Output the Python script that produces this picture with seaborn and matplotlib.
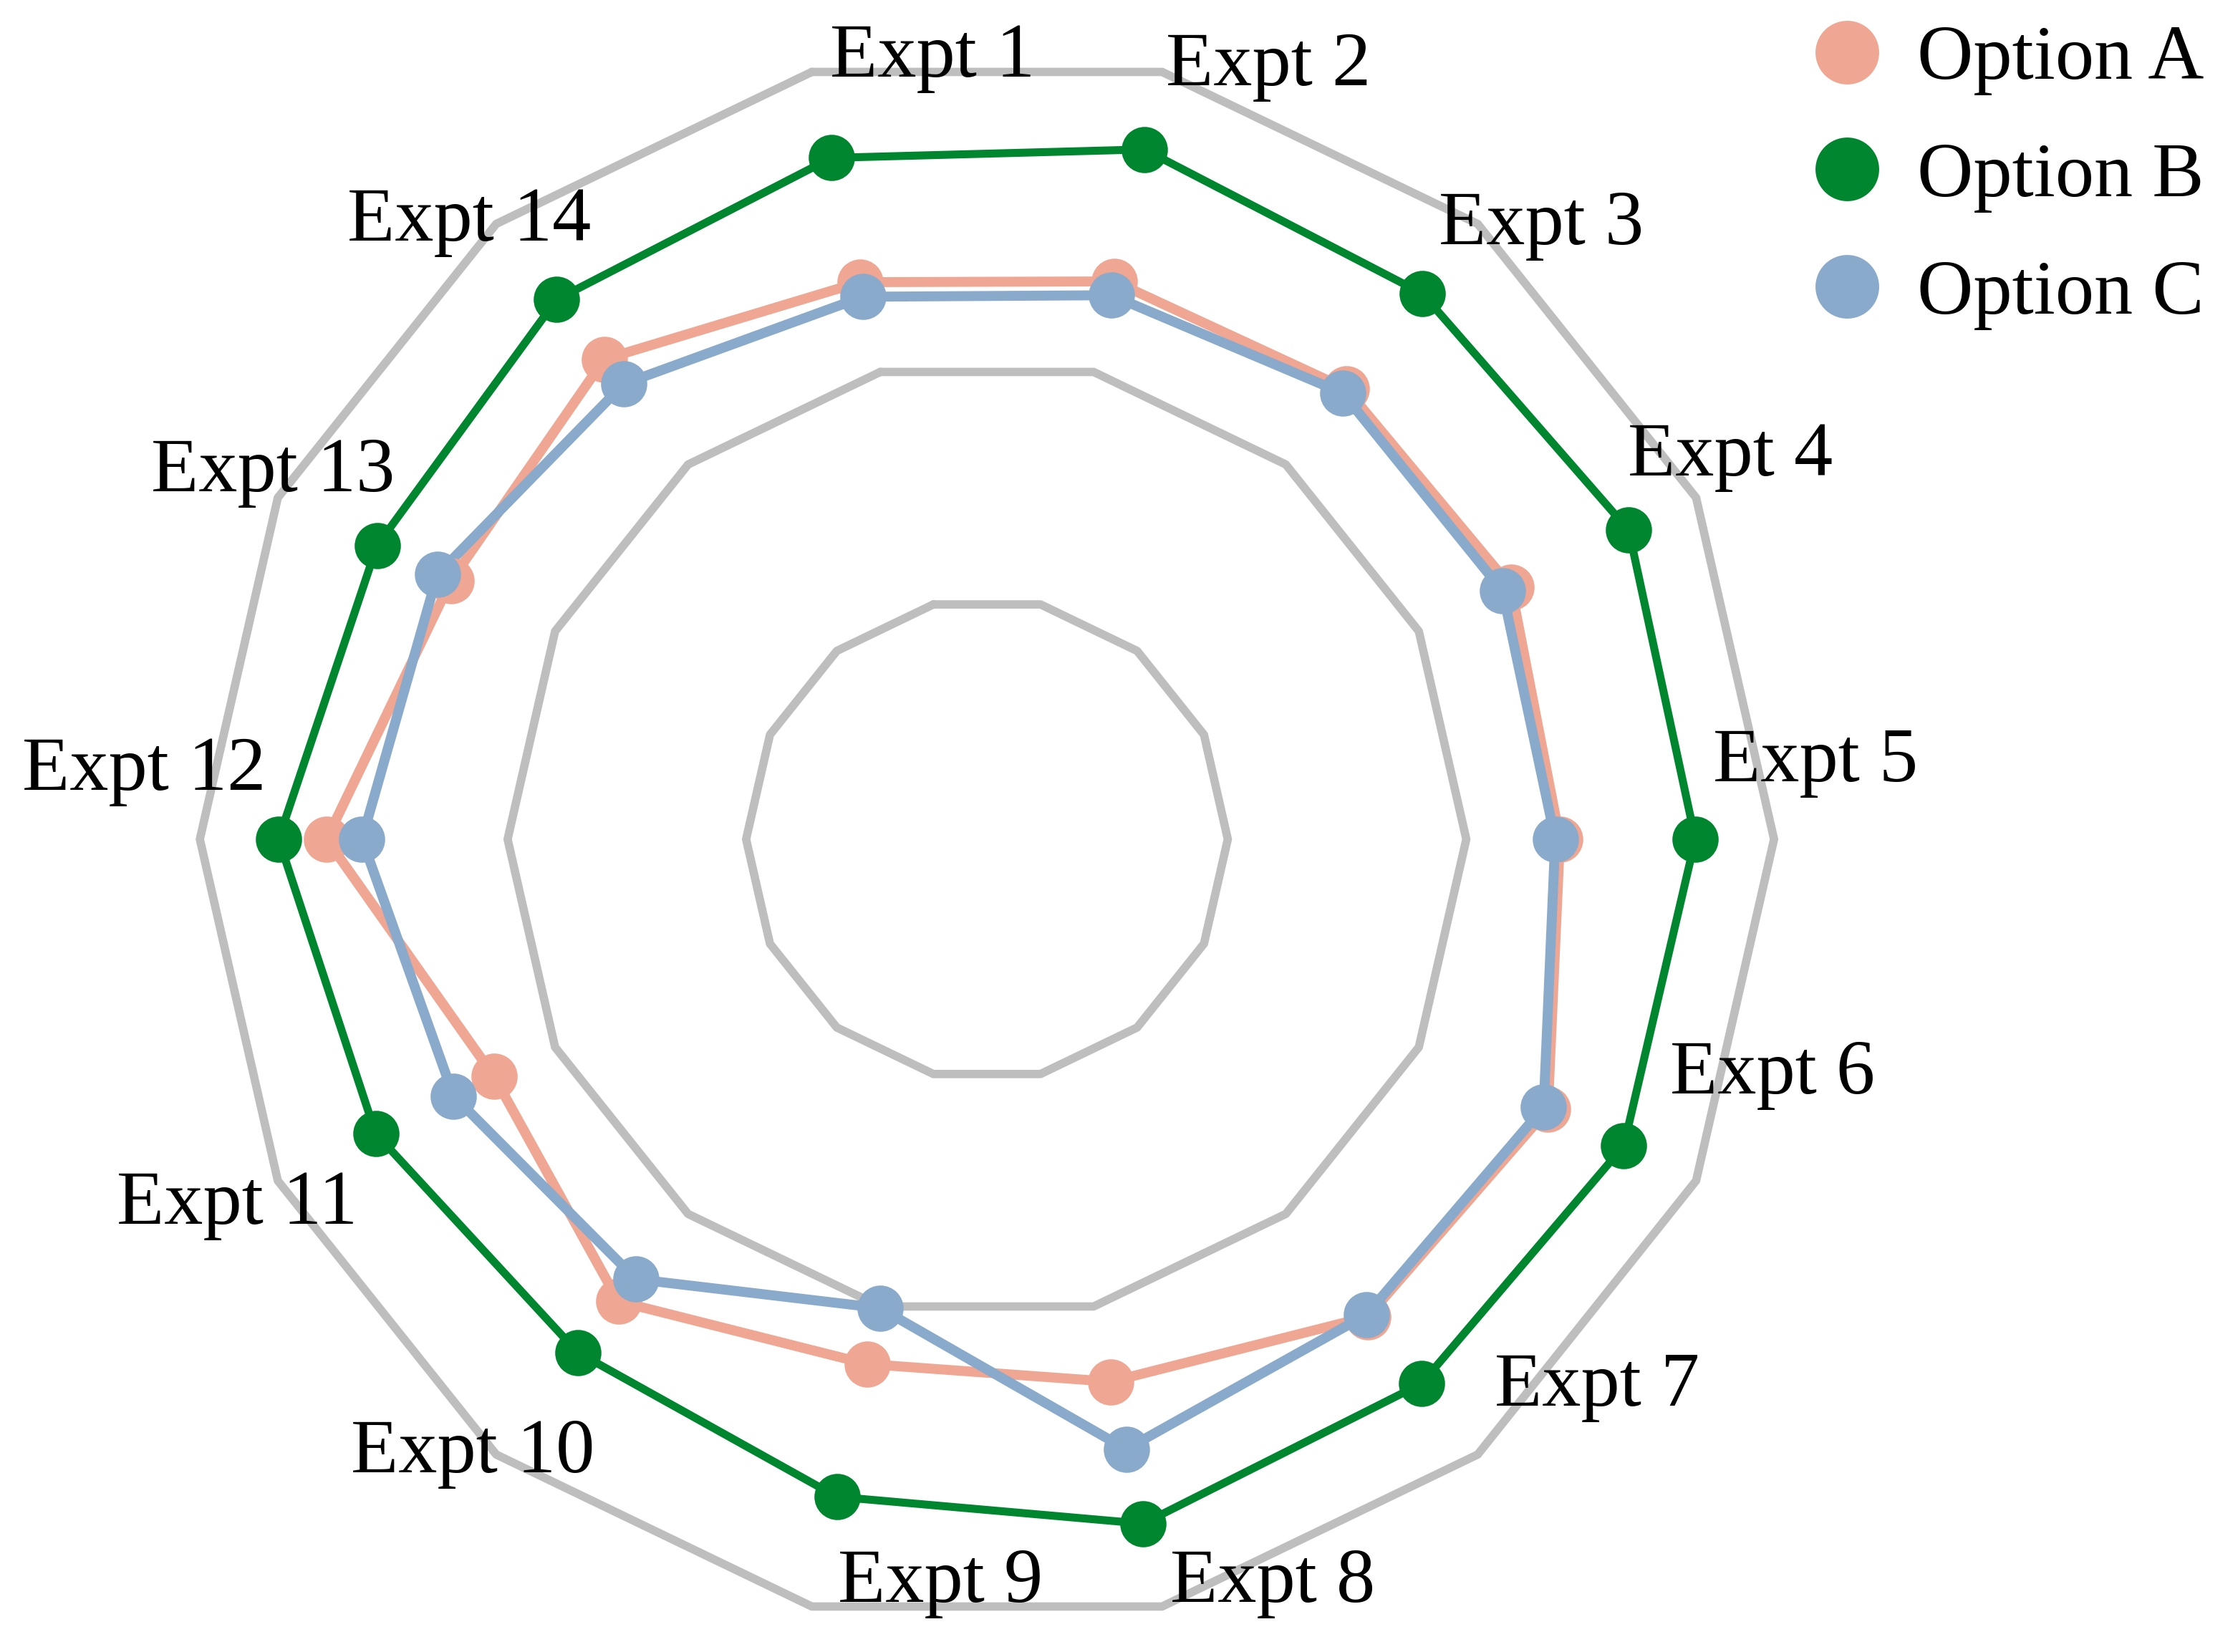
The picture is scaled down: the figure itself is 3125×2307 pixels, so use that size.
import numpy as np
import pandas as pd
import matplotlib.pyplot as plt
from matplotlib.lines import Line2D
import seaborn as sns

# data (outer grey ring = 100)
experiments = ['Expt 1', 'Expt 2', 'Expt 3', 'Expt 4', 'Expt 5', 'Expt 6', 'Expt 7',
               'Expt 8', 'Expt 9', 'Expt 10', 'Expt 11', 'Expt 12', 'Expt 13', 'Expt 14']
option_a = [72.6, 72.7, 73.2, 73.9, 72.8, 79.1, 77.6, 70.7, 68.4, 75.1, 69.5, 83.9, 75.6, 78.0]
option_b = [88.8, 89.9, 88.7, 90.5, 90.0, 89.8, 88.5, 89.2, 85.7, 83.4, 86.2, 90.0, 86.0, 87.7]
option_c = [70.7, 70.9, 72.5, 72.7, 72.2, 78.5, 77.3, 79.5, 61.1, 71.5, 75.2, 79.4, 77.5, 74.0]
grid_levels = [30.6, 60.9, 100]

# label placement (clockwise degrees from top, radius)
label_theta = [356, 20, 42.1, 62.8, 84.7, 106.7, 131.9, 159, 183.6, 219.9, 244, 274.6, 297.2, 320]
label_r = [99.5, 104.5, 105.1, 106.2, 105.7, 104.2, 104.2, 101.3, 94.7, 101.8, 106, 107.4, 102, 102.4]

colors = {'Option A': '#EFA692', 'Option B': '#00862F', 'Option C': '#8AAACB'}
widths = {'Option A': 5.0, 'Option B': 4.0, 'Option C': 5.0}

sns.set_style('white')
plt.rcParams['font.family'] = ['Liberation Serif', 'DejaVu Serif']
plt.rcParams['text.color'] = 'black'

n = len(experiments)
theta = np.deg2rad(-180 / n + np.arange(n) * 360 / n)
theta_closed = np.append(theta, theta[0] + 2 * np.pi)

fig = plt.figure(figsize=(15.625, 11.535), dpi=200)
ax = fig.add_axes([0.0893, 0.0156, 0.7034, 0.9528], projection='polar')
ax.set_theta_offset(np.pi / 2)
ax.set_theta_direction(-1)

# grey polygon grid
for lvl in grid_levels:
    ax.plot(theta_closed, [lvl] * (n + 1), color='#BEBEBE', lw=4.2, clip_on=False, zorder=1)

series = {'Option A': option_a, 'Option B': option_b, 'Option C': option_c}
for name, vals in series.items():
    df = pd.DataFrame({'theta': theta_closed, 'value': vals + [vals[0]]})
    sns.lineplot(data=df, x='theta', y='value', sort=False, estimator=None, ax=ax,
                 color=colors[name], linewidth=widths[name], zorder=2)
    sns.scatterplot(x=theta, y=vals, ax=ax, color=colors[name], s=540,
                    linewidth=0, zorder=3, clip_on=False)

ax.set_ylim(0, 100)
ax.grid(False)
ax.set_xticks([])
ax.set_yticks([])
ax.set_xlabel('')
ax.set_ylabel('')
ax.spines['polar'].set_visible(False)

for name, th, r in zip(experiments, label_theta, label_r):
    ax.text(np.deg2rad(th), r, name, ha='center', va='center', fontsize=39, color='black')

handles = [Line2D([], [], marker='o', linestyle='', markersize=32,
                  markerfacecolor=colors[k], markeredgewidth=0) for k in series]
fig.legend(handles, list(series.keys()), loc='upper left', bbox_to_anchor=(0.808, 0.985),
           frameon=False, fontsize=39, handlelength=1.0, handletextpad=0.4,
           labelspacing=0.6, borderpad=0, borderaxespad=0, labelcolor='black')

fig.savefig('out.png', dpi=200)
